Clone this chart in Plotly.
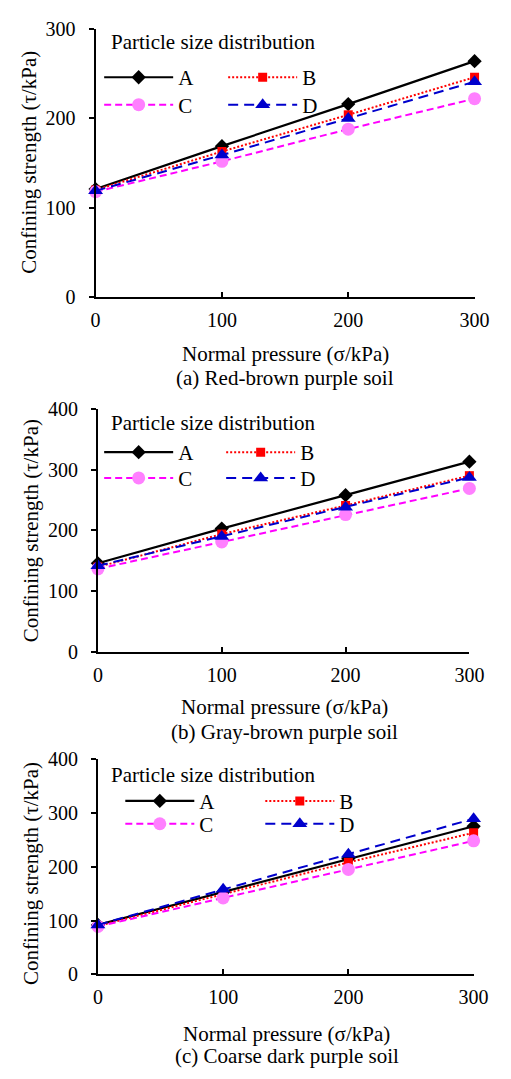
import plotly.graph_objects as go

# Shear test results: confining strength vs. normal pressure for three soils
normal_pressure = [0, 100, 200, 300]
groups = ["A", "B", "C", "D"]

red_brown = {
    "A": [121, 169, 216, 264],
    "B": [120, 163, 204, 246],
    "C": [118, 152, 188, 222],
    "D": [119, 159, 200, 241],
}
gray_brown = {
    "A": [146, 203, 258, 313],
    "B": [140, 194, 241, 290],
    "C": [137, 181, 226, 269],
    "D": [142, 190, 238, 287],
}
coarse_dark = {
    "A": [92, 153, 215, 275],
    "B": [90, 149, 208, 263],
    "C": [89, 142, 195, 248],
    "D": [92, 158, 223, 289],
}

panels = [red_brown, gray_brown, coarse_dark]
captions = ["(a) Red-brown purple soil", "(b) Gray-brown purple soil",
            "(c) Coarse dark purple soil"]
y_ranges = [[0, 300], [0, 400], [0, 400]]

W, H = 511, 1079
FONT = "Liberation Serif"
TEXT_SIZE = 21
TICK_SIZE = 20

# Plot-area boxes in pixels: (left, right, top, bottom)
boxes = [(94.3, 488.7, 18.3, 292.3),
         (96.7, 483.3, 406.0, 654.5),
         (96.7, 487.7, 763.5, 983.5)]

styles = {
    "A": dict(line=dict(color="black", width=2.2), marker=dict(symbol="diamond", size=11, color="black")),
    "B": dict(line=dict(color="#FF0000", width=2, dash="2px,2px"), marker=dict(symbol="square", size=9, color="#FF0000")),
    "C": dict(line=dict(color="#FF00FF", width=2, dash="7px,4px"), marker=dict(symbol="circle", size=13, color="#FF80FF")),
    "D": dict(line=dict(color="#0000CC", width=2, dash="10px,6px"), marker=dict(symbol="triangle-up", size=13, color="#0000CC")),
}


def px_x(v):
    return v / W


def px_y(v):
    return 1 - v / H


fig = go.Figure()
layout = dict(width=W, height=H, margin=dict(l=0, r=0, t=0, b=0),
              paper_bgcolor="white", plot_bgcolor="white",
              font=dict(family=FONT, size=TEXT_SIZE, color="black"),
              showlegend=True)
annotations = []

# Legend rows per panel: (left px, row-1 centre px, row-2 centre px)
legend_rows = [(98, 68, 96), (98, 450.7, 477), (120, 806.7, 830)]
entry_widths = [40, 38, 56]
title_pos = [(108, 32), (108, 420.7), (108, 780)]
xtitle_pos = [(291.7, 350), (290.8, 710), (292.5, 1044)]
caption_pos = [(291.7, 375), (290.5, 736.5), (294, 1067)]
ytitle_pos = [(25, 155), (27, 530), (27, 880)]

for i, data in enumerate(panels):
    n = i + 1
    xa = "x" if n == 1 else f"x{n}"
    ya = "y" if n == 1 else f"y{n}"
    left, right, top, bottom = boxes[i]
    leg1 = f"legend{2 * i + 1}" if i > 0 else "legend"
    leg2 = f"legend{2 * i + 2}"

    for g in groups:
        legend_name = leg1 if g in ("A", "B") else leg2
        fig.add_trace(go.Scatter(
            x=normal_pressure, y=data[g], name=g, mode="lines+markers",
            xaxis=xa, yaxis=ya, legend=legend_name, cliponaxis=False,
            line=styles[g]["line"], marker=styles[g]["marker"],
        ))

    axis_common = dict(showgrid=False, zeroline=False, showline=True,
                       linecolor="black", linewidth=2, tickcolor="black",
                       tickwidth=1.5, ticklen=5,
                       tickfont=dict(family=FONT, size=TICK_SIZE, color="black"))
    layout["xaxis" if n == 1 else f"xaxis{n}"] = dict(
        domain=[px_x(left), px_x(right)], range=[0, 300], dtick=100,
        tick0=0, ticks="inside", anchor=ya, ticklabelstandoff=4,
        **axis_common)
    layout["yaxis" if n == 1 else f"yaxis{n}"] = dict(
        domain=[px_y(bottom), px_y(top)], range=y_ranges[i], dtick=100,
        tick0=0, ticks="outside", anchor=xa, ticklabelstandoff=9,
        **axis_common)

    lx, r1, r2 = legend_rows[i]
    for leg, ly in ((leg1, r1), (leg2, r2)):
        layout[leg] = dict(
            x=px_x(lx), y=px_y(ly), xanchor="left", yanchor="middle",
            orientation="h", bgcolor="rgba(0,0,0,0)", borderwidth=0,
            entrywidth=entry_widths[i], entrywidthmode="pixels",
            itemwidth=69, font=dict(family=FONT, size=TEXT_SIZE, color="black"),
        )

    tx, ty = title_pos[i]
    annotations.append(dict(text="Particle size distribution", x=px_x(tx), y=px_y(ty),
                            xref="paper", yref="paper", xanchor="left", yanchor="middle",
                            showarrow=False, font=dict(family=FONT, size=TEXT_SIZE)))
    ax_, ay_ = xtitle_pos[i]
    annotations.append(dict(text="Normal pressure (σ/kPa)", x=px_x(ax_), y=px_y(ay_),
                            xref="paper", yref="paper", xanchor="center", yanchor="middle",
                            showarrow=False, font=dict(family=FONT, size=TEXT_SIZE)))
    cx, cy = caption_pos[i]
    annotations.append(dict(text=captions[i], x=px_x(cx), y=px_y(cy),
                            xref="paper", yref="paper", xanchor="center", yanchor="middle",
                            showarrow=False, font=dict(family=FONT, size=TEXT_SIZE)))
    yx, yy = ytitle_pos[i]
    annotations.append(dict(text="Confining strength (τ/kPa)", x=px_x(yx), y=px_y(yy),
                            xref="paper", yref="paper", xanchor="center", yanchor="middle",
                            textangle=-90, showarrow=False, font=dict(family=FONT, size=TEXT_SIZE)))

layout["annotations"] = annotations
fig.update_layout(**layout)
fig.write_html("out.html")
